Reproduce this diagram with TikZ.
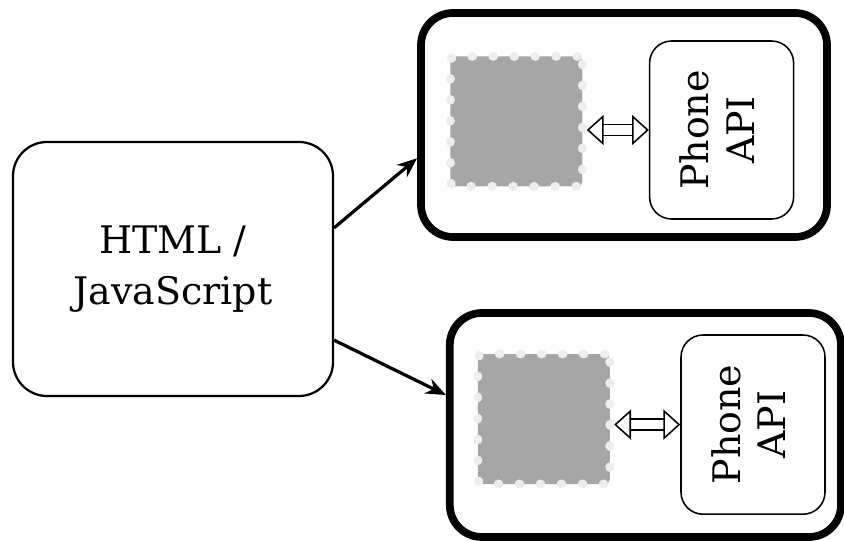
\documentclass[tikz,border=0pt]{standalone}
\usepackage{fontspec}
\setmainfont{DejaVu Serif}
\usetikzlibrary{arrows.meta, positioning}

\begin{document}
\begin{tikzpicture}
 \tikzstyle{jsbox}=[rectangle,draw=black,line width=1.6pt,rounded corners=0.85cm,
   minimum width=8cm,minimum height=6.35cm,align=center,
   font=\fontsize{27}{36}\selectfont]
 \tikzstyle{device}=[rectangle,draw=black,line width=5.5pt,rounded corners=0.8cm,
   minimum width=10.15cm,minimum height=5.6cm]
 \tikzstyle{screen}=[rectangle,fill=black!35,draw=black!7,line width=0.22cm,
   dash pattern=on 0.02cm off 0.505cm,line cap=round,rounded corners=0.12cm,
   minimum width=3.3cm,minimum height=3.25cm]
 \tikzstyle{apibox}=[rectangle,draw=black,line width=1.1pt,rounded corners=0.55cm,
   minimum width=3.6cm,minimum height=4.45cm,align=center,
   font=\fontsize{27}{35}\selectfont]
 \tikzstyle{arr}=[line width=2.3pt,-{Stealth[length=0.5cm,width=0.4cm]}]
 \tikzstyle{link}=[double,double distance=6.5pt,line width=1.1pt,
   {Triangle[open,length=0.42cm,width=0.75cm]}-{Triangle[open,length=0.42cm,width=0.75cm]}]
 \useasboundingbox (0,0) rectangle (21.1,13.5);
 % left: the shared web code
 \node (js) [jsbox] at (4.325,6.775) {HTML /\\JavaScript};
 % top phone
 \node (dev1) [device] at ([xshift=11.275cm,yshift=3.6cm]js.center) {};
 \node (gray1) [screen] at ([xshift=-2.69cm,yshift=0.09cm]dev1.center) {};
 \node (api1) [apibox] at ([xshift=2.44cm,yshift=-0.125cm]dev1.center)
   {\rotatebox{90}{\begin{tabular}{@{}c@{}}Phone\\[-0.1cm]API\end{tabular}}};
 % bottom phone
 \node (dev2) [device,minimum width=9.78cm] at ([xshift=11.81cm,yshift=-3.9cm]js.center) {};
 \node (gray2) [screen] at ([xshift=-2.54cm,yshift=0.15cm]dev2.center) {};
 \node (api2) [apibox,minimum height=4.48cm] at ([xshift=2.69cm,yshift=0.01cm]dev2.center)
   {\rotatebox{90}{\begin{tabular}{@{}c@{}}Phone\\[-0.1cm]API\end{tabular}}};
 \draw[arr] ([yshift=1.03cm]js.east) -- ([yshift=-0.83cm]dev1.west);
 \draw[arr] ([yshift=-1.78cm]js.east) -- ([yshift=0.75cm]dev2.west);
 \draw[link] (gray1.east |- api1.west) -- (api1.west);
 \draw[link] (gray2.east |- api2.west) -- (api2.west);
\end{tikzpicture}
\end{document}
